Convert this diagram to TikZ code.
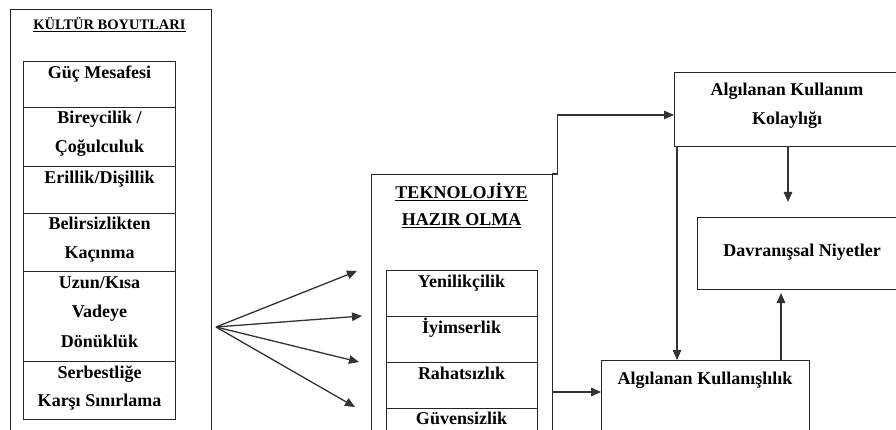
\documentclass[tikz,border=0pt]{standalone}
\usepackage{fontspec}
\setmainfont{Liberation Serif}
\usetikzlibrary{arrows.meta,calc}
\begin{document}
\begin{tikzpicture}[x=1pt,y=-1pt,
  box/.style={draw=black!85, line width=0.9pt, inner sep=0pt, outer sep=0pt, anchor=north west},
  lbl/.style={font=\fontsize{18}{20}\selectfont\bfseries, anchor=base, inner sep=0pt},
  ttl/.style={font=\fontsize{14.5}{16}\selectfont\bfseries, anchor=base, inner sep=0pt},
  arr/.style={draw=black!80, line width=1.3pt, -{Triangle[length=10pt,width=8.5pt]}}]
\clip (0,0) rectangle (896,430);
\fill[white] (0,0) rectangle (896,430);
% Kultur boyutlari
\node[box, minimum width=201pt, minimum height=440pt] (kb) at (10,9) {};
\node[ttl] (kbt) at (109.5,29.5) {\underline{KÜLTÜR BOYUTLARI}};
\node[box, minimum width=152pt, minimum height=46pt] (k1) at (23,61) {};
\node[box, minimum width=152pt, minimum height=59pt] (k2) at (23,107) {};
\node[box, minimum width=152pt, minimum height=47pt] (k3) at (23,166) {};
\node[box, minimum width=152pt, minimum height=58pt] (k4) at (23,213) {};
\node[box, minimum width=152pt, minimum height=90pt] (k5) at (23,271) {};
\node[box, minimum width=152pt, minimum height=58pt] (k6) at (23,361) {};
\node[lbl] (k1a) at (99.5,78.5) {Güç Mesafesi};
\node[lbl] (k2a) at (99.5,123.5) {Bireycilik /};
\node[lbl] (k2b) at (99.5,152.5) {Çoğulculuk};
\node[lbl] (k3a) at (99.5,183.5) {Erillik/Dişillik};
\node[lbl] (k4a) at (99.5,229.5) {Belirsizlikten};
\node[lbl] (k4b) at (99.5,258.5) {Kaçınma};
\node[lbl] (k5a) at (99.5,288.5) {Uzun/Kısa};
\node[lbl] (k5b) at (99.5,317.5) {Vadeye};
\node[lbl] (k5c) at (99.5,347) {Dönüklük};
\node[lbl] (k6a) at (99.5,378.5) {Serbestliğe};
\node[lbl] (k6b) at (99.5,406.5) {Karşı Sınırlama};
% Teknolojiye hazir olma
\node[box, minimum width=181pt, minimum height=300pt] (tek) at (371,174) {};
\node[lbl] (tekt1) at (461.5,198.5) {\underline{TEKNOLOJİYE}};
\node[lbl] (tekt2) at (461.5,225.5) {\underline{HAZIR OLMA}};
\node[box, minimum width=151pt, minimum height=46pt] (t1) at (386,270) {};
\node[box, minimum width=151pt, minimum height=46pt] (t2) at (386,316) {};
\node[box, minimum width=151pt, minimum height=46pt] (t3) at (386,362) {};
\node[box, minimum width=151pt, minimum height=60pt] (t4) at (386,408) {};
\node[lbl] (t1a) at (461.5,287) {Yenilikçilik};
\node[lbl] (t2a) at (461.5,333) {İyimserlik};
\node[lbl] (t3a) at (461.5,379) {Rahatsızlık};
\node[lbl] (t4a) at (461.5,424) {Güvensizlik};
% right boxes
\node[box, minimum width=235pt, minimum height=74pt] (akk) at (674,72) {};
\node[lbl] (akka) at (787,96) {Algılanan Kullanım};
\node[lbl] (akkb) at (787,125) {Kolaylığı};
\node[box, minimum width=215pt, minimum height=72pt] (dn) at (697,217) {};
\node[lbl] (dna) at (802,257) {Davranışsal Niyetler};
\node[box, minimum width=208pt, minimum height=100pt] (ak) at (601,360) {};
\node[lbl] (aka) at (705,384) {Algılanan Kullanışlılık};
% fan arrows
\coordinate (fan) at (216,327);
\coordinate (f1) at (357,271);
\coordinate (f2) at (362,316);
\coordinate (f3) at (359,362);
\coordinate (f4) at (355,407);
\draw[arr] (fan) -- (f1);
\draw[arr] (fan) -- (f2);
\draw[arr] (fan) -- (f3);
\draw[arr] (fan) -- (f4);
% connectors
\draw[arr] (tek.north east) -- ++(5.5,0) |- ([yshift=-6pt]akk.west);
\draw[arr] (tek.east |- 0,392) -- (ak.west |- 0,392);
\draw[arr] ([xshift=3pt]akk.south west) -- ([xshift=3pt]akk.south west |- ak.north);
\draw[arr, shorten >=15pt] (akk.south -| 788,0) -- (dn.north -| 788,0);
\draw[arr, shorten >=4pt] (ak.north -| 781,0) -- (dn.south -| 781,0);
\end{tikzpicture}
\end{document}
